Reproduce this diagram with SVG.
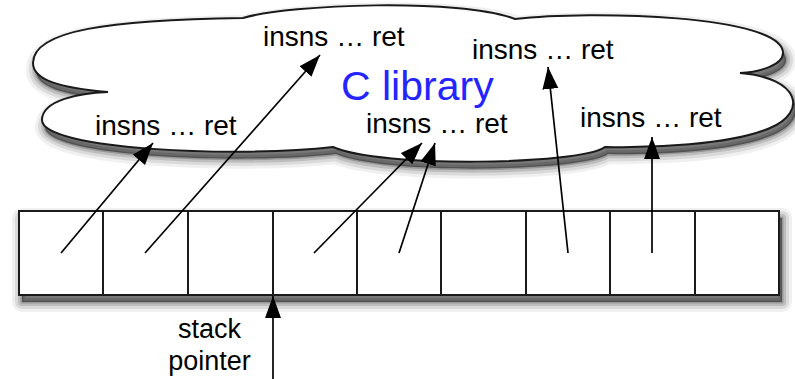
<svg xmlns="http://www.w3.org/2000/svg" width="795" height="379" viewBox="0 0 795 379">
  <style>
    .outline { fill: #ffffff; stroke: #1a1a1a; stroke-width: 2; }
    .cell { fill: none; stroke: #1a1a1a; stroke-width: 2; }
    .shade { fill: #000000; fill-opacity: 0.45; stroke: #000000; stroke-linejoin: round; }
    .ring { fill-opacity: 0; }
    .s1 { stroke-width: 20; stroke-opacity: 0.06; }
    .s2 { stroke-width: 14; stroke-opacity: 0.09; }
    .s3 { stroke-width: 8; stroke-opacity: 0.13; }
    .s4 { stroke-width: 3; stroke-opacity: 0.2; }
    .lbl { font-family: "Liberation Sans", Arial, Helvetica, sans-serif; font-size: 28px; fill: #000000; }
    .title { font-family: "Liberation Sans", Arial, Helvetica, sans-serif; font-size: 41px; fill: #2424ff; }
    .sp { font-family: "Liberation Sans", Arial, Helvetica, sans-serif; font-size: 27px; fill: #000000; text-anchor: middle; }
    .link { stroke: #000000; stroke-width: 1.7; fill: none; marker-end: url(#head); }
  </style>
  <defs>
    <path id="cloud-shape" d="M243,18 C290,4 460,-2 515,19 C590,10 783,15 783,53 C783,65 760,72 740,73 C800,78 808,112 770,128 C730,145 650,148 605,147 C580,165 380,168 333,147 C240,158 42,150 42,120 C42,100 80,93 108,92 C60,88 33,80 33,63 C33,30 110,20 243,18 Z"/>
    <rect id="stack-shape" x="19" y="211" width="760" height="84"/>
    <marker id="head" markerUnits="userSpaceOnUse" markerWidth="24" markerHeight="18" refX="22" refY="8" orient="auto">
      <path d="M0,0 L22,8 L0,16 Z" fill="#000000"/>
    </marker>
  </defs>

  <rect width="795" height="379" fill="#ffffff"/>

  <!-- soft drop shadows built from layered translucent strokes -->
  <g id="shadows" transform="translate(3,7)">
    <use href="#cloud-shape" class="shade ring s1"/>
    <use href="#cloud-shape" class="shade ring s2"/>
    <use href="#cloud-shape" class="shade ring s3"/>
    <use href="#cloud-shape" class="shade s4"/>
    <use href="#stack-shape" class="shade ring s1"/>
    <use href="#stack-shape" class="shade ring s2"/>
    <use href="#stack-shape" class="shade ring s3"/>
    <use href="#stack-shape" class="shade s4"/>
  </g>

  <!-- library cloud -->
  <g id="cloud">
    <use href="#cloud-shape" class="outline"/>
    <text class="title" x="341" y="100">C library</text>
  </g>

  <g id="fn-top"><text class="lbl" x="263" y="46">insns … ret</text></g>
  <g id="fn-left"><text class="lbl" x="95" y="135">insns … ret</text></g>
  <g id="fn-middle"><text class="lbl" x="366" y="133">insns … ret</text></g>
  <g id="fn-top-right"><text class="lbl" x="472" y="59">insns … ret</text></g>
  <g id="fn-right"><text class="lbl" x="580" y="127">insns … ret</text></g>

  <!-- stack of return addresses -->
  <g id="stack">
    <use href="#stack-shape" class="outline"/>
    <path class="cell" d="M103,211 V295 M188,211 V295 M273,211 V295 M357,211 V295 M441,211 V295 M526,211 V295 M610,211 V295 M695,211 V295"/>
  </g>

  <!-- label for the stack pointer -->
  <g id="stack-pointer">
    <rect x="155" y="313" width="113" height="66" fill="#ffffff"/>
    <text class="sp" x="209.5" y="338">stack</text>
    <text class="sp" x="209.5" y="370">pointer</text>
  </g>

  <g id="connectors">
    <line class="link" x1="61" y1="253" x2="153" y2="143"/>
    <line class="link" x1="145" y1="253" x2="320" y2="55"/>
    <line class="link" x1="314" y1="253" x2="422" y2="143"/>
    <line class="link" x1="399" y1="253" x2="435" y2="143"/>
    <line class="link" x1="568" y1="253" x2="548" y2="67"/>
    <line class="link" x1="652" y1="253" x2="652" y2="137"/>
    <line class="link" x1="273" y1="379" x2="273" y2="296"/>
  </g>
</svg>
